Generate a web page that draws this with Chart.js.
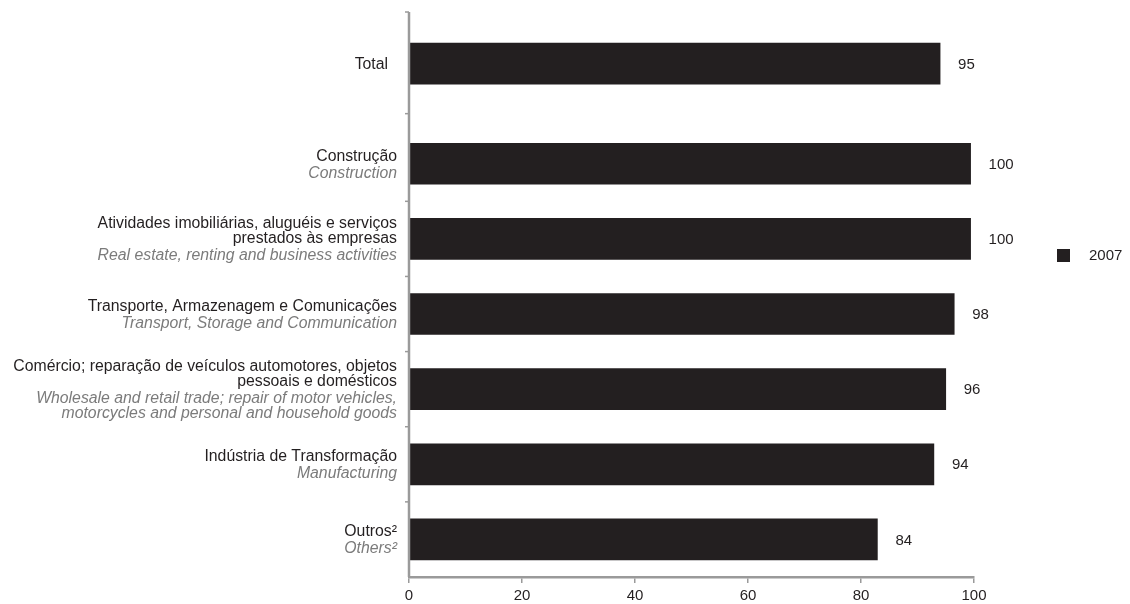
<!DOCTYPE html>
<html>
<head>
<meta charset="utf-8">
<script src="https://cdn.jsdelivr.net/npm/chart.js@4/dist/chart.umd.min.js"></script>
<style>
  html, body { margin: 0; padding: 0; background: #fff; }
  #caixa { width: 1130px; height: 604px; }
</style>
</head>
<body>
<div id="caixa"><canvas id="grafico" width="1130" height="604"></canvas></div>
<script>
// dados
const rotulosPt = [
    ['Total'],
    ['Construção'],
    ['Atividades imobiliárias, aluguéis e serviços', 'prestados às empresas'],
    ['Transporte, Armazenagem e Comunicações'],
    ['Comércio; reparação de veículos automotores, objetos', 'pessoais e domésticos'],
    ['Indústria de Transformação'],
    ['Outros²']
];
const rotulosEn = [
    [],
    ['Construction'],
    ['Real estate, renting and business activities'],
    ['Transport, Storage and Communication'],
    ['Wholesale and retail trade; repair of motor vehicles,', 'motorcycles and personal and household goods'],
    ['Manufacturing'],
    ['Others²']
];
const valores2007 = [94.0, 99.4, 99.4, 96.5, 95.0, 92.9, 82.9];
const rotulosValor = ['95', '100', '100', '98', '96', '94', '84'];
const ticksX = [0, 20, 40, 60, 80, 100];
const serie = '2007';

// linhas vazias entre as barras (Total fica um pouco mais afastado)
const vaziosAntes = [1, 3, 2, 2, 2, 2, 2];
const vaziosDepois = 1;

const linhas = [];
const dadosLinhas = [];
const indiceReal = [];
rotulosPt.forEach((r, i) => {
    for (let k = 0; k < vaziosAntes[i]; k++) { linhas.push(''); dadosLinhas.push(null); }
    indiceReal.push(linhas.length);
    linhas.push(r.join(' '));
    dadosLinhas.push(valores2007[i]);
});
for (let k = 0; k < vaziosDepois; k++) { linhas.push(''); dadosLinhas.push(null); }

const corBarra = '#231f20';
const corEixo = '#9a9a9a';
const fonte = '"Liberation Sans", Arial, sans-serif';

const textos = {
    id: 'textos',
    afterDraw(chart) {
        const ctx = chart.ctx;
        const y = chart.scales.y;
        const x = chart.scales.x;
        const area = chart.chartArea;
        ctx.save();

        // eixo vertical com marcas entre as categorias
        ctx.strokeStyle = corEixo;
        ctx.lineWidth = 2.5;
        ctx.beginPath();
        ctx.moveTo(area.left, 12);
        ctx.lineTo(area.left, area.bottom);
        ctx.stroke();
        ctx.lineWidth = 1.5;
        const marcas = [12];
        for (let i = 0; i < indiceReal.length - 1; i++) {
            marcas.push((y.getPixelForValue(indiceReal[i]) + y.getPixelForValue(indiceReal[i + 1])) / 2);
        }
        marcas.forEach(m => {
            ctx.beginPath();
            ctx.moveTo(area.left - 4, m);
            ctx.lineTo(area.left, m);
            ctx.stroke();
        });

        // rótulos das categorias
        ctx.textAlign = 'right';
        ctx.textBaseline = 'middle';
        const xTexto = area.left - 12;
        rotulosPt.forEach((pt, i) => {
            const en = rotulosEn[i];
            const alturaBloco = (pt.length - 1) * 15 + (en.length ? 17 + (en.length - 1) * 15 : 0);
            let yl = y.getPixelForValue(indiceReal[i]) + 1 - alturaBloco / 2;
            ctx.fillStyle = '#231f20';
            ctx.font = '15.8px ' + fonte;
            pt.forEach((l, k) => {
                ctx.fillText(l, i === 0 ? xTexto - 9 : xTexto, yl);
                if (k < pt.length - 1) yl += 15;
            });
            yl += 17;
            ctx.fillStyle = '#7b7b7b';
            ctx.font = 'italic 15.8px ' + fonte;
            en.forEach(l => {
                ctx.fillText(l, xTexto, yl);
                yl += 15;
            });
        });

        // valores ao lado das barras
        ctx.textAlign = 'left';
        ctx.fillStyle = '#231f20';
        ctx.font = '15px ' + fonte;
        valores2007.forEach((v, i) => {
            ctx.fillText(rotulosValor[i], x.getPixelForValue(v) + 18, y.getPixelForValue(indiceReal[i]) + 1);
        });

        // legenda
        ctx.fillStyle = corBarra;
        ctx.fillRect(1057, 249, 13, 13);
        ctx.fillText(serie, 1089, 256);
        ctx.restore();
    }
};

new Chart(document.getElementById('grafico').getContext('2d'), {
    type: 'bar',
    data: {
        labels: linhas,
        datasets: [{
            label: serie,
            data: dadosLinhas,
            backgroundColor: corBarra,
            borderWidth: 0,
            barThickness: 41
        }]
    },
    options: {
        indexAxis: 'y',
        responsive: false,
        animation: false,
        layout: {
            padding: { left: 401, right: 156, top: 26, bottom: 0 }
        },
        plugins: {
            legend: { display: false },
            tooltip: { enabled: false }
        },
        scales: {
            x: {
                min: 0,
                max: 100,
                afterBuildTicks: (s) => { s.ticks = ticksX.map(v => ({ value: v })); },
                afterFit: (s) => { s.height = 27; },
                border: { color: corEixo, width: 2.5 },
                grid: {
                    drawOnChartArea: false,
                    color: corEixo,
                    lineWidth: 1.5,
                    tickLength: 6
                },
                ticks: {
                    color: '#231f20',
                    font: { family: fonte, size: 15 },
                    padding: 4,
                    maxRotation: 0
                }
            },
            y: {
                border: { display: false },
                grid: { display: false },
                ticks: { display: false }
            }
        }
    },
    plugins: [textos]
});
</script>
</body>
</html>
